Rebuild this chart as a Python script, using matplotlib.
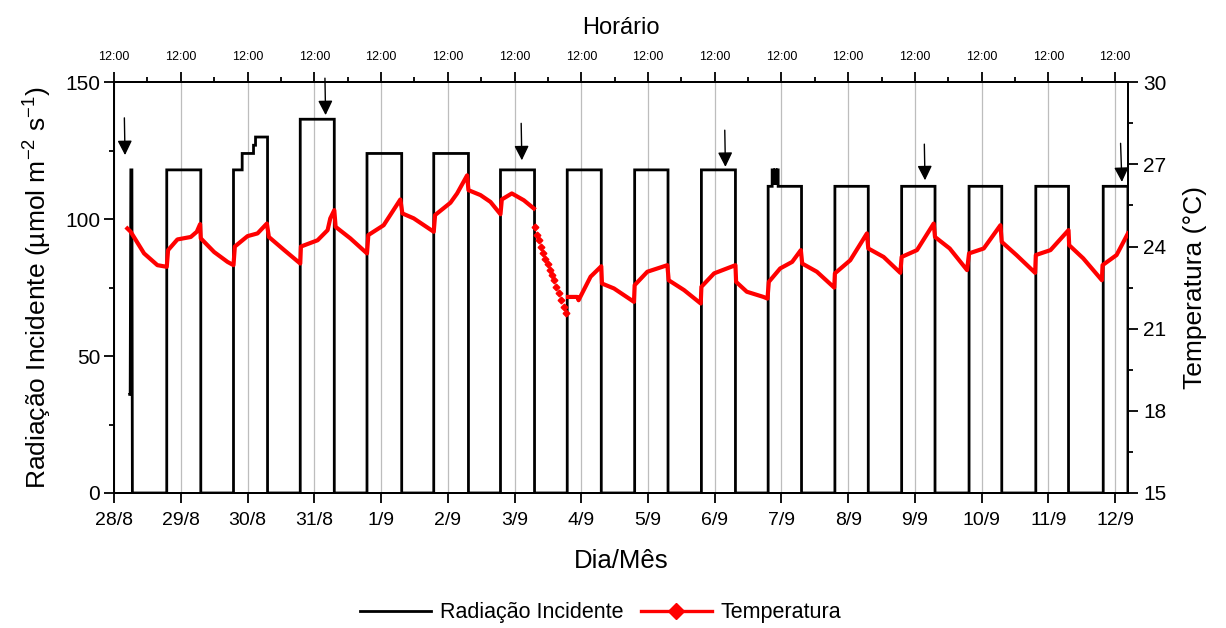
"""
plot.py

Incident radiation (photoperiod pulses) and air temperature, 28/8 to 12/9.
Left axis: radiation, right axis: temperature, top axis: noon of each day.
"""

import matplotlib
matplotlib.use("Agg")
import matplotlib.pyplot as plt
from matplotlib.lines import Line2D
from matplotlib.ticker import MultipleLocator, FixedLocator

plt.rcParams["font.family"] = ["Liberation Sans", "DejaVu Sans"]
plt.rcParams["mathtext.fontset"] = "custom"
plt.rcParams["mathtext.rm"] = "Liberation Sans"
plt.rcParams["mathtext.it"] = "Liberation Sans:italic"

# ---------------------------
# Data (x in days, 0 = 28/8 at 12:00)
# ---------------------------
day_labels = ["28/8", "29/8", "30/8", "31/8", "1/9", "2/9", "3/9", "4/9",
              "5/9", "6/9", "7/9", "8/9", "9/9", "10/9", "11/9", "12/9"]

# first day: only the end of the light period was recorded
spike_day = [0.235, 0.242, 0.252, 0.268, 0.275]
spike_val = [36, 36, 118, 118, 0]

# light periods: switch on, switch off, level (umol m-2 s-1)
pulse_start = [0.79, 1.79, 2.79, 3.79, 4.79, 5.79, 6.79, 7.80,
               8.80, 9.80, 10.80, 11.80, 12.81, 13.81, 14.82]
pulse_end = [1.30, 2.30, 3.30, 4.31, 5.31, 6.30, 7.30, 8.30,
             9.31, 10.30, 11.30, 12.30, 13.30, 14.30, 15.19]
pulse_level = [118, 118, 136.5, 124, 124, 118, 118, 118,
               118, 112, 112, 112, 112, 112, 112]

# light periods where the level changed during the day
step_day_30_8 = [1.79, 1.92, 2.09, 2.12]
step_val_30_8 = [118, 124, 127, 130]
step_day_7_9 = [9.80, 9.86, 9.88, 9.90, 9.92, 9.94, 9.95]
step_val_7_9 = [112, 118, 113, 118, 113, 118, 112]

# temperature (deg C), continuous record before and after the gap on 3/9-4/9
temp1_day = [0.20, 0.25, 0.45, 0.65, 0.79, 0.81, 0.95, 1.15, 1.24, 1.29,
             1.30, 1.50, 1.70, 1.79, 1.81, 2.00, 2.15, 2.29, 2.32, 2.55,
             2.79, 2.80, 3.05, 3.20, 3.24, 3.30, 3.32, 3.54, 3.79, 3.81,
             4.04, 4.29, 4.32, 4.49, 4.79, 4.81, 5.04, 5.14, 5.29, 5.31,
             5.49, 5.64, 5.79, 5.81, 5.96, 6.14, 6.29]
temp1_val = [24.66, 24.54, 23.75, 23.32, 23.26, 23.87, 24.26, 24.35, 24.54, 24.82,
             24.30, 23.80, 23.44, 23.32, 24.00, 24.38, 24.48, 24.84, 24.35, 23.87,
             23.38, 24.00, 24.23, 24.60, 25.03, 25.33, 24.72, 24.30, 23.75, 24.42,
             24.78, 25.72, 25.21, 25.03, 24.54, 25.15, 25.60, 25.94, 26.60, 26.06,
             25.88, 25.63, 25.18, 25.72, 25.94, 25.69, 25.39]

gap_day = [6.313, 6.338, 6.363, 6.398, 6.428, 6.463, 6.497, 6.527,
           6.563, 6.587, 6.627, 6.662, 6.697, 6.737, 6.777]
gap_val = [24.70, 24.42, 24.23, 23.99, 23.75, 23.56, 23.36, 23.14,
           22.96, 22.77, 22.53, 22.29, 22.04, 21.80, 21.58]

temp2_day = [6.80, 6.94, 6.96, 7.14, 7.30, 7.31, 7.49, 7.79, 7.80, 7.99,
             8.29, 8.31, 8.54, 8.79, 8.80, 8.99, 9.31, 9.32, 9.48, 9.73,
             9.79, 9.81, 9.98, 10.16, 10.29, 10.31, 10.53, 10.79, 10.80, 11.03,
             11.28, 11.30, 11.53, 11.78, 11.80, 12.03, 12.28, 12.30, 12.52, 12.78,
             12.81, 13.03, 13.28, 13.30, 13.52, 13.80, 13.81, 14.03, 14.30, 14.31,
             14.52, 14.80, 14.81, 15.02, 15.19]
temp2_val = [22.16, 22.16, 22.04, 22.90, 23.28, 22.65, 22.47, 21.98, 22.59, 23.08,
             23.32, 22.77, 22.41, 21.92, 22.53, 23.02, 23.32, 22.71, 22.35, 22.16,
             22.10, 22.71, 23.20, 23.44, 23.87, 23.38, 23.08, 22.50, 23.02, 23.50,
             24.48, 23.93, 23.62, 23.04, 23.62, 23.87, 24.84, 24.35, 23.93, 23.14,
             23.75, 23.93, 24.78, 24.17, 23.69, 23.04, 23.69, 23.87, 24.60, 24.05,
             23.57, 22.77, 23.32, 23.69, 24.48]

# sampling events (arrows)
arrow_tail_day = [0.155, 3.16, 6.10, 9.15, 12.14, 15.08]
arrow_tip_day = [0.165, 3.17, 6.11, 9.16, 12.15, 15.10]
arrow_tail_val = [137.0, 151.5, 135.0, 132.5, 127.4, 127.7]
arrow_tip_val = [123.4, 138.0, 121.5, 119.1, 114.2, 113.6]


# ---------------------------
# Build the radiation step series
# ---------------------------
def build_radiation():
    xs = list(spike_day)
    ys = list(spike_val)
    profiles = {1: (step_day_30_8, step_val_30_8), 9: (step_day_7_9, step_val_7_9)}
    for i, (s, e, lvl) in enumerate(zip(pulse_start, pulse_end, pulse_level)):
        xs.append(s)
        ys.append(0)
        if i in profiles:
            pd_, pv_ = profiles[i]
            for j in range(len(pd_)):
                if j > 0:
                    xs.append(pd_[j])
                    ys.append(pv_[j - 1])
                xs.append(pd_[j])
                ys.append(pv_[j])
            lvl = pv_[-1]
        else:
            xs.append(s)
            ys.append(lvl)
        xs.append(e)
        ys.append(lvl)
        xs.append(e)
        ys.append(0)
    return xs, ys


def main():
    fig = plt.figure(figsize=(12.26, 6.28), dpi=100)
    ax1 = fig.add_axes([0.093, 0.215, 0.827, 0.654])
    ax2 = ax1.twinx()

    rad_x, rad_y = build_radiation()
    ax1.plot(rad_x, rad_y, color="black", lw=2.0, solid_joinstyle="miter", zorder=3)

    for tx, hx, ty, hy in zip(arrow_tail_day, arrow_tip_day, arrow_tail_val, arrow_tip_val):
        ax1.annotate("", xy=(hx, hy), xytext=(tx, ty), annotation_clip=False,
                     arrowprops=dict(arrowstyle="-|>", color="black", lw=1.0,
                                     mutation_scale=22, shrinkA=0, shrinkB=0),
                     zorder=5)

    # temperature: dense record drawn as a thick line, sparse stretch as points
    red = "#ff0000"
    ax2.plot(temp1_day, temp1_val, color=red, lw=3.0, solid_joinstyle="round", zorder=4)
    ax2.plot(gap_day, gap_val, color=red, ls="none", marker="D", ms=3.4, zorder=4)
    ax2.plot(temp2_day, temp2_val, color=red, lw=3.0, solid_joinstyle="round", zorder=4)

    # axes ranges and ticks
    ax1.set_xlim(0, 15.19)
    ax1.set_ylim(0, 150)
    ax2.set_ylim(15, 30)

    ax1.xaxis.set_major_locator(FixedLocator(range(len(day_labels))))
    ax1.set_xticklabels(day_labels, fontsize=14)
    ax1.yaxis.set_major_locator(MultipleLocator(50))
    ax1.yaxis.set_minor_locator(MultipleLocator(25))
    ax2.yaxis.set_major_locator(MultipleLocator(3))
    ax2.yaxis.set_minor_locator(MultipleLocator(1.5))

    for a in (ax1, ax2):
        a.tick_params(which="major", direction="out", length=7, width=1.3, pad=3)
        a.tick_params(which="minor", direction="out", length=3.5, width=1.3)
        for sp in a.spines.values():
            sp.set_linewidth(1.4)
    ax1.tick_params(axis="x", pad=7)
    ax1.tick_params(axis="y", labelsize=15)
    ax2.tick_params(axis="y", labelsize=15, pad=4)

    ax1.grid(axis="x", color="#bdbdbd", lw=0.9)
    ax1.set_axisbelow(True)

    # top axis: noon of each day
    top = ax1.secondary_xaxis("top")
    top.xaxis.set_major_locator(FixedLocator(range(len(day_labels))))
    top.xaxis.set_minor_locator(FixedLocator([d + 0.5 for d in range(len(day_labels) - 1)]))
    top.set_xticklabels(["12:00"] * len(day_labels), fontsize=9)
    top.tick_params(which="major", direction="out", length=7, width=1.3, pad=7)
    top.tick_params(which="minor", direction="out", length=3.5, width=1.3)
    top.spines["top"].set_linewidth(1.4)
    top.set_xlabel("Horário", fontsize=17, labelpad=12)

    ax1.set_xlabel("Dia/Mês", fontsize=18.5, labelpad=14)
    ax1.set_ylabel(r"Radiação Incidente (µmol m$^{-2}$ s$^{-1}$)", fontsize=19, labelpad=8)
    ax2.set_ylabel("Temperatura (°C)", fontsize=19, labelpad=12)

    handles = [Line2D([], [], color="black", lw=2.0),
               Line2D([], [], color=red, lw=2.4, marker="D", ms=8)]
    fig.legend(handles, ["Radiação Incidente", "Temperatura"], loc="center",
               bbox_to_anchor=(0.49, 0.024), ncol=2, frameon=False, fontsize=15.5,
               handlelength=3.3, columnspacing=0.8, handletextpad=0.4)

    fig.savefig("out.png", dpi=100)
    plt.close(fig)


if __name__ == "__main__":
    main()
